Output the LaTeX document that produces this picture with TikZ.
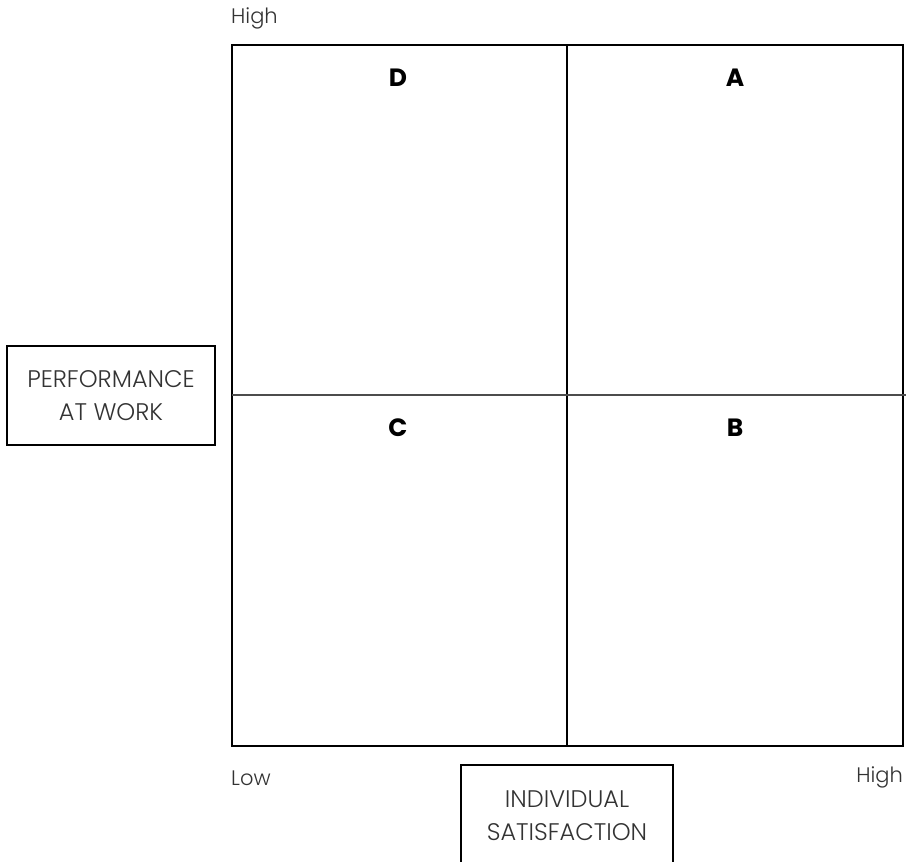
\documentclass[tikz,border=0pt]{standalone}
\usepackage{fontspec}
\setmainfont{Poppins}[UprightFont=* Light, BoldFont=* Bold]
\begin{document}
\begin{tikzpicture}[x=1pt,y=-1pt,
  frame/.style={draw=black, line width=1.3pt},
  axislabel/.style={font=\fontsize{21}{24}\selectfont, text=black!80, inner sep=0pt},
  boxtext/.style={font=\fontsize{24}{33}\selectfont, text=black!80, align=center, inner sep=0pt},
  quad/.style={font=\bfseries\fontsize{25}{28}\selectfont, text=black, inner sep=0pt}]
\useasboundingbox (0,0) rectangle (908,862);

% quadrant grid
\coordinate (nw) at (232,45);
\coordinate (se) at (903,746);
\draw[frame] (nw) rectangle (se);
\coordinate (vtop) at (567,45);
\coordinate (vbot) at (567,746);
\draw[frame] (vtop) -- (vbot);
\coordinate (hleft) at (232,395);
\coordinate (hright) at (906,395);
\draw[line width=1.3pt, draw=black!70] (hleft) -- (hright);

% quadrant letters
\node[quad] (qD) at (398,78) {D};
\node[quad] (qA) at (735,78) {A};
\node[quad] (qC) at (398,428) {C};
\node[quad] (qB) at (735,428) {B};

% axis end labels
\node[axislabel, anchor=west] (yhigh) at (231,18) {High};
\node[axislabel, anchor=west] (xlow) at (231,778) {Low};
\node[axislabel, anchor=east] (xhigh) at (903,777) {High};

% vertical axis title
\node[frame, boxtext, minimum width=208pt, minimum height=99pt] (perf) at (111,395.5) {PERFORMANCE\\AT WORK};

% horizontal axis title, box open at the bottom
\node[boxtext] (sat) at (567,816) {INDIVIDUAL\\SATISFACTION};
\coordinate (satbl) at (461,864);
\coordinate (sattl) at (461,765);
\coordinate (sattr) at (673,765);
\coordinate (satbr) at (673,864);
\draw[frame] (satbl) -- (sattl) -- (sattr) -- (satbr);
\end{tikzpicture}
\end{document}
